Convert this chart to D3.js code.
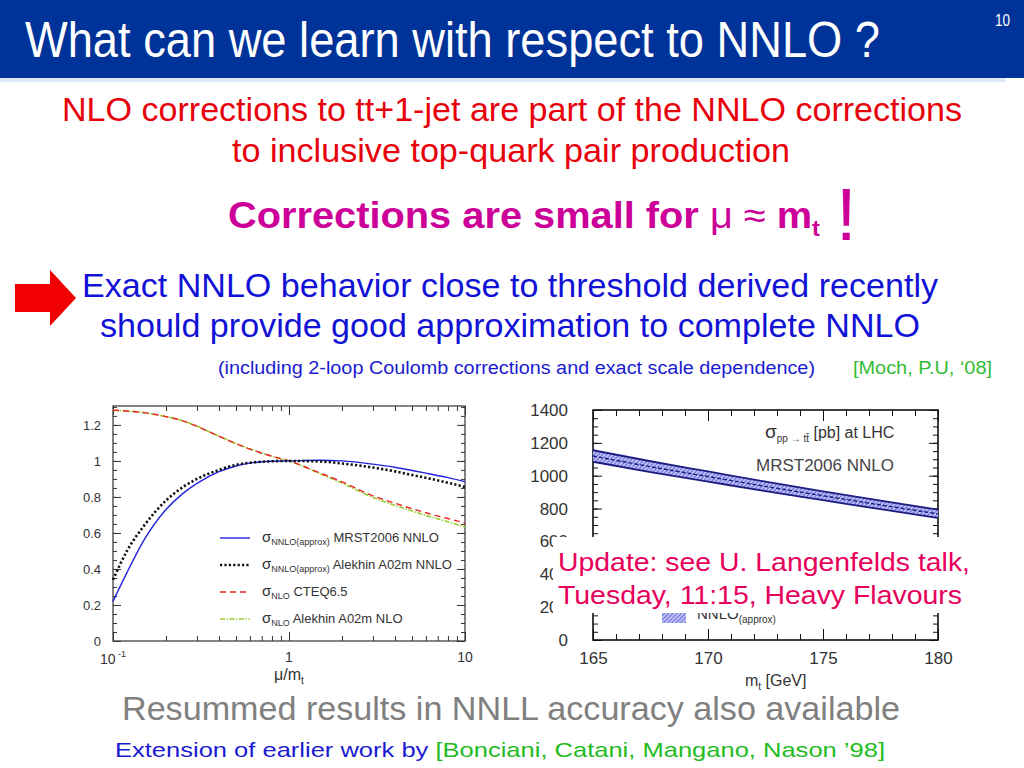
<!DOCTYPE html>
<html>
<head>
<meta charset="utf-8">
<script src="https://cdn.jsdelivr.net/npm/d3@7"></script>
<style>
  body { margin: 0; background: #fff; }
  svg { display: block; font-family: "Liberation Sans", Arial, sans-serif; }
</style>
</head>
<body>
<svg id="slide" width="1024" height="768" xmlns="http://www.w3.org/2000/svg"></svg>
<script>
// ---- data: left plot (scale dependence, normalised to mu = mt)
const muGrid      = [0.1, 0.12, 0.15, 0.2, 0.25, 0.3, 0.4, 0.5, 0.6, 0.8, 1, 1.5, 2, 3, 4, 5, 6, 8, 10];
const nnloMrst    = [0.22, 0.38, 0.56, 0.73, 0.82, 0.875, 0.94, 0.972, 0.988, 0.998, 1.0, 1.004, 1.0, 0.982, 0.965, 0.947, 0.932, 0.907, 0.885];
const nnloAlekhin = [0.34, 0.50, 0.64, 0.78, 0.855, 0.90, 0.95, 0.978, 0.99, 0.998, 1.0, 0.997, 0.986, 0.963, 0.942, 0.922, 0.906, 0.879, 0.855];
const nloCteq     = [1.282, 1.277, 1.268, 1.246, 1.222, 1.192, 1.137, 1.096, 1.066, 1.026, 1.0, 0.933, 0.884, 0.806, 0.765, 0.735, 0.712, 0.68, 0.655];
const nloAlekhin  = [1.282, 1.277, 1.268, 1.246, 1.222, 1.192, 1.137, 1.096, 1.066, 1.026, 1.0, 0.929, 0.877, 0.797, 0.753, 0.722, 0.697, 0.662, 0.633];
const yTicksL     = [0, 0.2, 0.4, 0.6, 0.8, 1, 1.2];
const legendL = [
  { sub: 'NNLO(approx)', label: 'MRST2006 NNLO' },
  { sub: 'NNLO(approx)', label: 'Alekhin A02m NNLO' },
  { sub: 'NLO', label: 'CTEQ6.5' },
  { sub: 'NLO', label: 'Alekhin A02m NLO' }
];

// ---- data: right plot (cross section vs top mass)
const mtGrid   = [165, 167.5, 170, 172.5, 175, 177.5, 180];
const sigCent  = [1120, 1055, 995, 935, 878, 822, 768];
const sigUpper = [1155, 1088, 1026, 964, 905, 848, 793];
const sigLower = [1085, 1022, 964, 906, 851, 796, 743];
const yTicksR  = [0, 200, 400, 600, 800, 1000, 1200, 1400];
const xTicksR  = [165, 170, 175, 180];

const svg = d3.select('#slide');

// hatch for the band
const defs = svg.append('defs');
const pat = defs.append('pattern').attr('id', 'hatch')
  .attr('width', 3).attr('height', 3)
  .attr('patternUnits', 'userSpaceOnUse')
  .attr('patternTransform', 'rotate(45)');
pat.append('rect').attr('width', 3).attr('height', 3).attr('fill', '#bcc0f4');
pat.append('line').attr('x1', 0).attr('y1', 0).attr('x2', 0).attr('y2', 3)
  .attr('stroke', '#4040cc').attr('stroke-width', 1.3);

// ---- header bar
svg.append('rect').attr('x', 0).attr('y', 0).attr('width', 1024).attr('height', 78).attr('fill', '#003399');
svg.append('rect').attr('x', 0).attr('y', 78).attr('width', 1005).attr('height', 4).attr('fill', '#dce9f8');
svg.append('text').attr('x', 25).attr('y', 57)
  .attr('font-size', 50).attr('fill', '#fff')
  .attr('textLength', 855).attr('lengthAdjust', 'spacingAndGlyphs')
  .text('What can we learn with respect to NNLO ?');
svg.append('text').attr('x', 1010).attr('y', 26).attr('text-anchor', 'end')
  .attr('font-size', 16).attr('fill', '#fff')
  .attr('textLength', 15).attr('lengthAdjust', 'spacingAndGlyphs').text('10');

// text helper
function line(txt, x, y, size, color, len) {
  const t = svg.append('text').attr('x', x).attr('y', y)
    .attr('font-size', size).attr('fill', color).text(txt);
  if (len) t.attr('textLength', len).attr('lengthAdjust', 'spacingAndGlyphs');
  return t;
}

line('NLO corrections to tt+1-jet are part of the NNLO corrections', 62, 121, 33, '#e8000b', 900);
line('to inclusive top-quark pair production', 232, 162, 33, '#e8000b', 558);

// magenta statement
const mag = svg.append('text').attr('x', 228).attr('y', 228)
  .attr('font-size', 37).attr('font-weight', 'bold').attr('fill', '#cc0099');
mag.append('tspan').text('Corrections are small for ');
mag.append('tspan').attr('font-weight', 'normal').text('μ ≈ ');
mag.append('tspan').text('m');
mag.append('tspan').attr('font-size', 22).attr('dy', 8).text('t');
mag.attr('textLength', 592).attr('lengthAdjust', 'spacingAndGlyphs');
line('!', 836, 240, 74, '#cc0099', null);

// red arrow
svg.append('path')
  .attr('d', 'M15,284 L50,284 L50,270 L76,298 L50,326 L50,312 L15,312 Z')
  .attr('fill', '#f00000');

line('Exact NNLO behavior close to threshold derived recently', 82, 297, 33, '#1212d6', 856);
line('should provide good approximation to complete NNLO', 100, 337, 33, '#1212d6', 820);
line('(including 2-loop Coulomb corrections and exact scale dependence)', 218, 374, 18, '#1a1ad0', 597);
line('[Moch, P.U, ‘08]', 853, 374, 18, '#33bb33', 139);

// ================= left plot =================
const L = { x0: 113, x1: 465, y0: 406, y1: 641 };
const xL = d3.scaleLog().domain([0.1, 10]).range([L.x0, L.x1]);
const yL = d3.scaleLinear().domain([0, 1.305]).range([L.y1, L.y0]);
const gL = svg.append('g');

const minorMu = [];
[0.1, 1].forEach(d => { for (let k = 2; k <= 9; k++) minorMu.push(d * k); });
const minorYL = d3.range(0, 1.301, 0.05);

function styleAxis(g, col) {
  g.selectAll('.domain').remove();
  g.selectAll('line').attr('stroke', col || '#333').attr('stroke-width', 1);
  g.selectAll('text').attr('fill', '#333').attr('font-family', '"Liberation Sans", Arial');
}

// y axes
gL.append('g').attr('transform', `translate(${L.x0},0)`)
  .call(d3.axisLeft(yL).tickValues(minorYL).tickSize(-4).tickFormat(''))
  .call(styleAxis);
gL.append('g').attr('transform', `translate(${L.x0},0)`)
  .call(d3.axisLeft(yL).tickValues(yTicksL).tickSize(-8).tickPadding(12).tickFormat(d3.format('')))
  .call(styleAxis).selectAll('text').attr('font-size', 13);
gL.append('g').attr('transform', `translate(${L.x1},0)`)
  .call(d3.axisRight(yL).tickValues(minorYL).tickSize(-4).tickFormat(''))
  .call(styleAxis);
gL.append('g').attr('transform', `translate(${L.x1},0)`)
  .call(d3.axisRight(yL).tickValues(yTicksL).tickSize(-8).tickFormat(''))
  .call(styleAxis);
// x axes
gL.append('g').attr('transform', `translate(0,${L.y1})`)
  .call(d3.axisBottom(xL).tickValues(minorMu).tickSize(-5).tickFormat(''))
  .call(styleAxis);
gL.append('g').attr('transform', `translate(0,${L.y1})`)
  .call(d3.axisBottom(xL).tickValues([0.1, 1, 10]).tickSize(-9).tickFormat(''))
  .call(styleAxis);
gL.append('g').attr('transform', `translate(0,${L.y0})`)
  .call(d3.axisTop(xL).tickValues(minorMu).tickSize(-5).tickFormat(''))
  .call(styleAxis);
gL.append('g').attr('transform', `translate(0,${L.y0})`)
  .call(d3.axisTop(xL).tickValues([0.1, 1, 10]).tickSize(-9).tickFormat(''))
  .call(styleAxis);

// x tick labels
const t01 = gL.append('text').attr('x', xL(0.1)).attr('y', 664).attr('text-anchor', 'middle')
  .attr('font-size', 14).attr('fill', '#333');
t01.append('tspan').text('10');
t01.append('tspan').attr('font-size', 9).attr('dy', -7).text(' -1');
gL.append('text').attr('x', xL(1)).attr('y', 662).attr('text-anchor', 'middle')
  .attr('font-size', 14).attr('fill', '#333').text('1');
gL.append('text').attr('x', xL(10)).attr('y', 662).attr('text-anchor', 'middle')
  .attr('font-size', 14).attr('fill', '#333').text('10');
const xlab = gL.append('text').attr('x', 274).attr('y', 680).attr('font-size', 16).attr('fill', '#333');
xlab.append('tspan').text('μ/m');
xlab.append('tspan').attr('font-size', 10).attr('dy', 4).text('t');

// frame lines
gL.append('rect').attr('x', L.x0).attr('y', L.y0).attr('width', L.x1 - L.x0).attr('height', L.y1 - L.y0)
  .attr('fill', 'none').attr('stroke', '#333').attr('stroke-width', 1.2);

const seriesL = [
  { vals: nloAlekhin, color: '#9acd32', width: 1.6, dash: '5,1.5,1.5,1.5' },
  { vals: nloCteq, color: '#ee2222', width: 1.4, dash: '6,4' },
  { vals: nnloMrst, color: '#2222dd', width: 1.4, dash: null },
  { vals: nnloAlekhin, color: '#111', width: 2.6, dash: '2.2,2.2' }
];
const lineL = d3.line().x((d, i) => xL(muGrid[i])).y(d => yL(d)).curve(d3.curveMonotoneX);
seriesL.forEach(s => {
  gL.append('path').datum(s.vals).attr('d', lineL)
    .attr('fill', 'none').attr('stroke', s.color).attr('stroke-width', s.width)
    .attr('stroke-dasharray', s.dash);
});

// legend (order from top: blue, black, red, green)
const legOrder = [2, 3, 1, 0];
legendL.forEach((it, i) => {
  const s = seriesL[legOrder[i]];
  const y = 538 + i * 27;
  gL.append('line').attr('x1', 220).attr('x2', 250).attr('y1', y).attr('y2', y)
    .attr('stroke', s.color).attr('stroke-width', s.width).attr('stroke-dasharray', s.dash);
  const t = gL.append('text').attr('x', 262).attr('y', y + 4).attr('fill', '#333').attr('font-size', 15);
  t.append('tspan').text('σ');
  t.append('tspan').attr('font-size', 9).attr('dy', 3).text(it.sub);
  t.append('tspan').attr('font-size', 13).attr('dy', -3).text(' ' + it.label);
});

// ================= right plot =================
const R = { x0: 593, x1: 938, y0: 410, y1: 640 };
const xR = d3.scaleLinear().domain([165, 180]).range([R.x0, R.x1]);
const yR = d3.scaleLinear().domain([0, 1400]).range([R.y1, R.y0]);
const gR = svg.append('g');

const minorMt = d3.range(165, 180.01, 1);
const minorYR = d3.range(0, 1400.1, 50);

gR.append('g').attr('transform', `translate(${R.x0},0)`)
  .call(d3.axisLeft(yR).tickValues(minorYR).tickSize(-5).tickFormat(''))
  .call(styleAxis, '#111');
gR.append('g').attr('transform', `translate(${R.x0},0)`)
  .call(d3.axisLeft(yR).tickValues(yTicksR).tickSize(-9).tickPadding(25).tickFormat(d3.format('')))
  .call(styleAxis, '#111').selectAll('text').attr('font-size', 17);
gR.append('g').attr('transform', `translate(${R.x1},0)`)
  .call(d3.axisRight(yR).tickValues(minorYR).tickSize(-5).tickFormat(''))
  .call(styleAxis, '#111');
gR.append('g').attr('transform', `translate(${R.x1},0)`)
  .call(d3.axisRight(yR).tickValues(yTicksR).tickSize(-9).tickFormat(''))
  .call(styleAxis, '#111');
gR.append('g').attr('transform', `translate(0,${R.y1})`)
  .call(d3.axisBottom(xR).tickValues(minorMt).tickSize(-6).tickFormat(''))
  .call(styleAxis, '#111');
gR.append('g').attr('transform', `translate(0,${R.y1})`)
  .call(d3.axisBottom(xR).tickValues(xTicksR).tickSize(-11).tickPadding(12).tickFormat(d3.format('')))
  .call(styleAxis, '#111').selectAll('text').attr('font-size', 17);
gR.append('g').attr('transform', `translate(0,${R.y0})`)
  .call(d3.axisTop(xR).tickValues(minorMt).tickSize(-6).tickFormat(''))
  .call(styleAxis, '#111');
gR.append('g').attr('transform', `translate(0,${R.y0})`)
  .call(d3.axisTop(xR).tickValues(xTicksR).tickSize(-11).tickFormat(''))
  .call(styleAxis, '#111');
gR.append('rect').attr('x', R.x0).attr('y', R.y0).attr('width', R.x1 - R.x0).attr('height', R.y1 - R.y0)
  .attr('fill', 'none').attr('stroke', '#111').attr('stroke-width', 1.6);

// band
const area = d3.area().x((d, i) => xR(mtGrid[i])).y0((d, i) => yR(sigLower[i])).y1(d => yR(d)).curve(d3.curveMonotoneX);
gR.append('path').datum(sigUpper).attr('d', area).attr('fill', 'url(#hatch)');
const lineR = d3.line().x((d, i) => xR(mtGrid[i])).y(d => yR(d)).curve(d3.curveMonotoneX);
[sigUpper, sigLower].forEach(v => {
  gR.append('path').datum(v).attr('d', lineR).attr('fill', 'none')
    .attr('stroke', '#1c1c80').attr('stroke-width', 1.8);
});
gR.append('path').datum(sigCent).attr('d', lineR).attr('fill', 'none')
  .attr('stroke', '#1c1c80').attr('stroke-width', 1.4).attr('stroke-dasharray', '4,2');

// labels inside
const lhc = gR.append('text').attr('x', 765).attr('y', 438).attr('fill', '#333').attr('font-size', 19);
lhc.append('tspan').text('σ');
lhc.append('tspan').attr('font-size', 10).attr('dy', 4).text('pp → tt̄');
lhc.append('tspan').attr('font-size', 16).attr('dy', -4).text(' [pb] at LHC');
gR.append('text').attr('x', 756).attr('y', 471).attr('fill', '#444').attr('font-size', 17).text('MRST2006 NNLO');

// legend (mostly hidden by note)
gR.append('rect').attr('x', 662).attr('y', 611).attr('width', 24).attr('height', 12).attr('fill', 'url(#hatch)');
const lg = gR.append('text').attr('x', 697).attr('y', 619).attr('fill', '#333').attr('font-size', 15);
lg.append('tspan').text('NNLO');
lg.append('tspan').attr('font-size', 10).attr('dy', 4).text('(approx)');

const xlabR = gR.append('text').attr('x', 745).attr('y', 686).attr('fill', '#333').attr('font-size', 16);
xlabR.append('tspan').text('m');
xlabR.append('tspan').attr('font-size', 10).attr('dy', 4).text('t');
xlabR.append('tspan').attr('dy', -4).text(' [GeV]');

// update note covering part of plot
svg.append('rect').attr('x', 553).attr('y', 537).attr('width', 422).attr('height', 76).attr('fill', '#fff');
line('Update: see U. Langenfelds talk,', 558, 571, 26, '#e6005c', 412);
line('Tuesday, 11:15, Heavy Flavours', 558, 604, 26, '#e6005c', 404);

// footer
line('Resummed results in NNLL accuracy also available', 122, 720, 33, '#808080', 778);
const ext = svg.append('text').attr('x', 115).attr('y', 757).attr('font-size', 21);
ext.append('tspan').attr('fill', '#1a1ad0').text('Extension of earlier work by ');
ext.append('tspan').attr('fill', '#22bb22').text('[Bonciani, Catani, Mangano, Nason ’98]');
ext.attr('textLength', 770).attr('lengthAdjust', 'spacingAndGlyphs');
</script>
</body>
</html>
